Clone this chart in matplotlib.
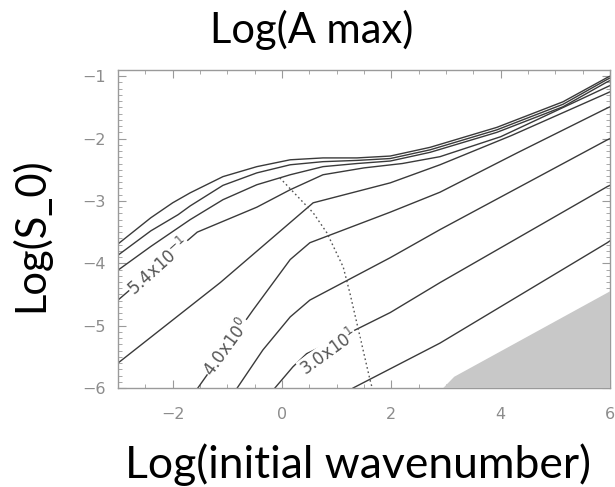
import matplotlib
matplotlib.use("Agg")
import matplotlib.pyplot as plt
from matplotlib.ticker import MultipleLocator

# contour lines: (log wavenumber, log S_0)
line_a_x = [-3.0, -2.4, -2.0, -1.68, -1.08, -0.46, 0.15, 0.75, 1.37, 1.98, 2.71, 3.93, 5.14, 5.95, 6.0]
line_a_y = [-3.69, -3.27, -3.03, -2.87, -2.61, -2.45, -2.34, -2.31, -2.31, -2.28, -2.14, -1.82, -1.41, -1.02, -1.0]
line_b_x = [-3.0, -2.4, -1.9, -1.68, -1.08, -0.46, 0.15, 0.75, 1.37, 1.98, 2.71, 3.93, 5.14, 5.95, 6.0]
line_b_y = [-3.87, -3.48, -3.22, -3.08, -2.75, -2.55, -2.42, -2.37, -2.35, -2.32, -2.18, -1.86, -1.45, -1.05, -1.03]
line_c_x = [-3.0, -2.4, -1.68, -1.08, -0.46, 0.15, 0.75, 1.37, 1.98, 2.71, 3.93, 5.14, 5.95, 6.0]
line_c_y = [-4.11, -3.73, -3.30, -2.98, -2.74, -2.58, -2.45, -2.40, -2.36, -2.22, -1.90, -1.49, -1.09, -1.07]
line_d_x = [-3.0, -1.55, -0.46, 0.15, 0.75, 1.5, 2.2, 2.89, 4.0, 5.95, 6.0]
line_d_y = [-4.59, -3.50, -3.10, -2.82, -2.58, -2.47, -2.40, -2.29, -1.97, -1.17, -1.15]
line_5_x = [-3.0, -1.13, -0.16, 0.57, 1.98, 2.89, 4.2, 5.95, 6.0]
line_5_y = [-5.60, -4.31, -3.58, -3.03, -2.71, -2.42, -1.95, -1.27, -1.25]
line_4_x = [-1.54, -0.53, 0.15, 0.51, 1.98, 2.89, 4.3, 5.95, 6.0]
line_4_y = [-6.0, -4.75, -3.94, -3.67, -3.18, -2.86, -2.23, -1.51, -1.49]
line_3_x = [-0.82, -0.35, 0.15, 0.51, 1.98, 2.89, 5.95, 6.0]
line_3_y = [-6.0, -5.39, -4.86, -4.59, -3.91, -3.46, -2.02, -2.0]
line_2_x = [-0.13, 0.20, 0.45, 1.43, 1.98, 2.89, 5.95, 6.0]
line_2_y = [-6.0, -5.66, -5.45, -5.03, -4.79, -4.31, -2.77, -2.75]
line_1_x = [1.30, 2.89, 5.95, 6.0]
line_1_y = [-6.0, -5.28, -3.67, -3.64]

# dotted ridge line
ridge_x = [-0.04, 0.57, 0.82, 1.12, 1.24, 1.61, 1.65]
ridge_y = [-2.63, -3.19, -3.51, -4.06, -4.47, -5.87, -6.0]

# grey excluded wedge
wedge_x = [2.95, 3.15, 3.4, 6.0, 6.0]
wedge_y = [-6.0, -5.82, -5.7, -4.45, -6.0]

contour_labels = ["5.4x10$^{-1}$", "4.0x10$^{0}$", "3.0x10$^{1}$"]
label_x = [-2.25, -1.0, 0.85]
label_y = [-4.05, -5.35, -5.42]
label_rot = [42, 54, 36]

LINE = "#3a3a3a"
FRAME = "#9a9a9a"
TICKTXT = "#8c8c8c"
FONT = "Lato"

fig = plt.figure(figsize=(6.15, 4.87), dpi=100)
ax = fig.add_axes([118 / 615, 99 / 487, 492 / 615, 318 / 487])

lines = [
    (line_a_x, line_a_y), (line_b_x, line_b_y), (line_c_x, line_c_y),
    (line_d_x, line_d_y), (line_5_x, line_5_y), (line_4_x, line_4_y),
    (line_3_x, line_3_y), (line_2_x, line_2_y), (line_1_x, line_1_y),
]
for xs, ys in lines:
    ax.plot(xs, ys, color=LINE, lw=1.0, solid_joinstyle="round", zorder=2)

ax.plot(ridge_x, ridge_y, color="#555555", lw=1.0, ls=(0, (1.2, 2.0)), zorder=2)
ax.fill(wedge_x, wedge_y, color="#c8c8c8", lw=0, zorder=3, clip_on=False)

for text, x, y, rot in zip(contour_labels, label_x, label_y, label_rot):
    ax.text(x, y, text, rotation=rot, ha="center", va="center", fontsize=12,
            color="#555555", rotation_mode="anchor", zorder=4,
            bbox=dict(boxstyle="square,pad=0.02", fc="white", ec="none"))

ax.set_xlim(-3, 6)
ax.set_ylim(-6.0, -0.9)
ax.xaxis.set_major_locator(MultipleLocator(2))
ax.xaxis.set_minor_locator(MultipleLocator(0.5))
ax.yaxis.set_major_locator(MultipleLocator(1))
ax.yaxis.set_minor_locator(MultipleLocator(0.1))
ax.tick_params(which="both", direction="in", top=True, right=True, color=FRAME,
               labelcolor=TICKTXT, labelsize=11.5)
ax.tick_params(which="major", length=6, width=0.8)
ax.tick_params(which="minor", length=3, width=0.6)
ax.tick_params(axis="x", pad=14)
ax.tick_params(axis="y", pad=9)
for spine in ax.spines.values():
    spine.set_color(FRAME)
    spine.set_linewidth(1.0)

fig.text(312 / 615, 1 - 43 / 487, "Log(A max)", ha="center", va="baseline",
         fontsize=30, family=FONT)
fig.text(358 / 615, 1 - 478 / 487, "Log(initial wavenumber)", ha="center",
         va="baseline", fontsize=32, family=FONT)
fig.text(30 / 615, 1 - 235 / 487, "Log(S_0)", ha="center", va="center",
         rotation=90, fontsize=30, family=FONT)

fig.savefig("out.png", dpi=100, facecolor="white")
